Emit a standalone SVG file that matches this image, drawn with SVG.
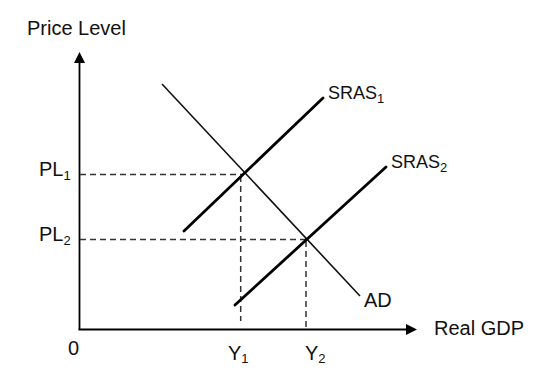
<svg xmlns="http://www.w3.org/2000/svg" width="536" height="381" viewBox="0 0 536 381">
<style>
text{font-family:"Liberation Sans",Arial,sans-serif;font-size:20px;fill:#111}
.s18{font-size:18px}
.sub{font-size:13px}
.axis{stroke:#000;stroke-width:1.8;fill:none}
.dash{stroke:#333;stroke-width:1.5;stroke-dasharray:6,4;fill:none}
.sras{stroke:#000;stroke-width:2.8;fill:none;stroke-linecap:round}
.ad{stroke:#111;stroke-width:1.6;fill:none}
</style>
<rect width="536" height="381" fill="#fff"/>
<g id="axes">
<line class="axis" x1="79.5" y1="329.5" x2="79.5" y2="60"/>
<polygon points="79.5,52 74,63 85,63" fill="#000"/>
<line class="axis" x1="78.5" y1="329.5" x2="408" y2="329.5"/>
<polygon points="417,329.5 406,324 406,335" fill="#000"/>
<text x="27" y="35">Price Level</text>
<text x="434" y="335">Real GDP</text>
<text x="68" y="355">0</text>
</g>
<g id="connectors">
<line class="dash" x1="80" y1="174.5" x2="243" y2="174.5"/>
<line class="dash" x1="80" y1="239.5" x2="306" y2="239.5"/>
<line class="dash" x1="240.7" y1="176" x2="240.7" y2="321"/>
<line class="dash" x1="306" y1="241" x2="306" y2="328"/>
</g>
<g id="AD">
<line class="ad" x1="162" y1="84" x2="360" y2="296"/>
<text x="364" y="307">AD</text>
</g>
<g id="SRAS1">
<line class="sras" x1="184" y1="231" x2="323" y2="98"/>
<text class="s18" x="328" y="99">SRAS<tspan class="sub" dy="4">1</tspan></text>
</g>
<g id="SRAS2">
<line class="sras" x1="235" y1="305" x2="386" y2="167"/>
<text class="s18" x="391" y="168">SRAS<tspan class="sub" dy="4">2</tspan></text>
</g>
<g id="labels">
<text x="39" y="176">PL<tspan class="sub" dy="4">1</tspan></text>
<text x="39" y="241">PL<tspan class="sub" dy="4">2</tspan></text>
<text x="228" y="360">Y<tspan class="sub" dy="3">1</tspan></text>
<text x="305" y="360">Y<tspan class="sub" dy="3">2</tspan></text>
</g>
</svg>
